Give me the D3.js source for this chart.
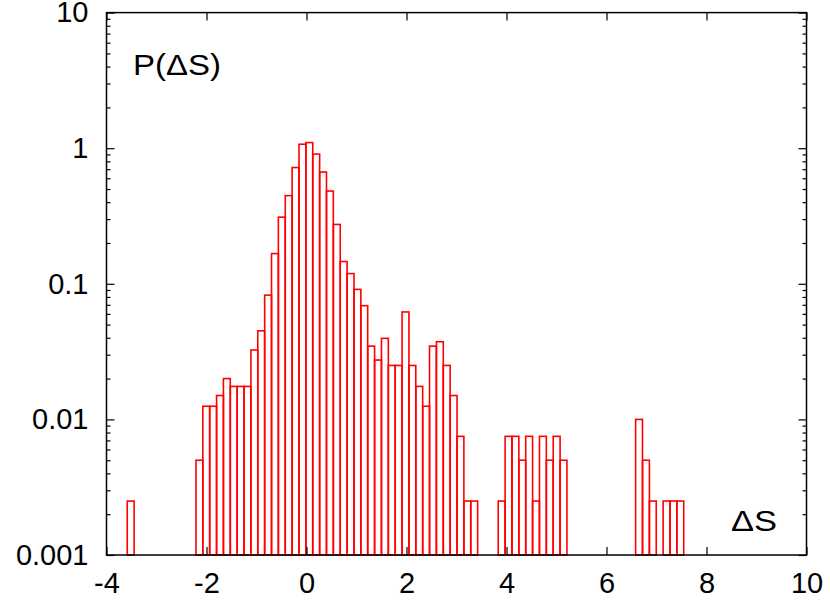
<!DOCTYPE html>
<html>
<head>
<meta charset="utf-8">
<script src="https://cdn.jsdelivr.net/npm/d3@7"></script>
<style>
  body { margin: 0; background: #fff; }
  svg text { font-family: "Liberation Sans", Arial, Helvetica, sans-serif; }
</style>
</head>
<body>
<svg id="chart" width="830" height="610"></svg>
<script>
// histogram bins: centre of each bin and its probability (empty bins left out)
var binWidth = 0.1374;
var binCenters = [
	-3.516,
	-2.142, -2.005, -1.868, -1.730, -1.593, -1.455, -1.318, -1.181, -1.043, -0.906,
	-0.768, -0.631, -0.494, -0.356, -0.219, -0.081, 0.056, 0.194, 0.331, 0.468,
	0.606, 0.743, 0.881, 1.018, 1.155, 1.293, 1.430, 1.568, 1.705, 1.842,
	1.980, 2.117, 2.255, 2.392, 2.529, 2.667, 2.804, 2.942, 3.079, 3.216, 3.354,
	3.903, 4.041, 4.178, 4.316, 4.453, 4.590, 4.728, 4.865, 5.003, 5.140,
	6.651, 6.789, 6.926, 7.201, 7.338, 7.476
];
var probs = [
	0.0025,
	0.005, 0.0125, 0.0125, 0.015, 0.02, 0.0175, 0.0175, 0.0175, 0.0325, 0.045,
	0.0825, 0.167, 0.31, 0.447, 0.72, 1.07, 1.1, 0.905, 0.667, 0.483,
	0.274, 0.146, 0.119, 0.091, 0.069, 0.0347, 0.0274, 0.0396, 0.025, 0.025,
	0.062, 0.025, 0.0175, 0.0125, 0.0347, 0.0374, 0.025, 0.015, 0.0075, 0.0025, 0.0025,
	0.0025, 0.0075, 0.0075, 0.005, 0.0075, 0.0025, 0.0075, 0.005, 0.0075, 0.005,
	0.01, 0.005, 0.0025, 0.0025, 0.0025, 0.0025
];
var xTicks = [-4, -2, 0, 2, 4, 6, 8, 10];
var yTicks = [0.001, 0.01, 0.1, 1, 10];
var yTickLabels = ["0.001", "0.01", "0.1", "1", "10"];

var svg = d3.select("#chart"),
	plotLeft = 106.5, plotRight = 806.5, plotTop = 12.6, plotBottom = 555,
	x = d3.scaleLinear().domain([-4, 10]).range([plotLeft, plotRight]),
	y = d3.scaleLog().domain([0.001, 10]).range([plotBottom, plotTop]);

var minorTicks = [];
yTicks.slice(0, -1).forEach(function(d) {
	for (var m = 2; m <= 9; m++) minorTicks.push(d * m);
});

var bins = binCenters.map(function(c, i) { return {c: c, p: probs[i]}; });

// bars
svg.append("g")
	.selectAll("rect")
	.data(bins)
	.enter().append("rect")
	.attr("x", function(d) { return x(d.c - binWidth/2); })
	.attr("width", function(d) { return x(d.c + binWidth/2) - x(d.c - binWidth/2); })
	.attr("y", function(d) { return y(d.p); })
	.attr("height", function(d) { return plotBottom - y(d.p); })
	.attr("fill", "none")
	.attr("stroke", "#ff0000")
	.attr("stroke-width", 1.6);

// axes, ticks pointing inside
function styleAxis(g) {
	g.select(".domain").remove();
	g.selectAll("line").attr("stroke", "#000").attr("stroke-width", 1.2);
	g.selectAll("text").attr("fill", "#000").style("font-size", "29px")
		.style("font-family", '"Liberation Sans", Arial, Helvetica, sans-serif');
}

svg.append("g")
	.attr("transform", "translate(0," + plotBottom + ")")
	.call(d3.axisBottom(x).tickValues(xTicks).tickSizeInner(-8).tickSizeOuter(0)
		.tickPadding(17).tickFormat(function(d) { return String(d); }))
	.call(styleAxis);

svg.append("g")
	.attr("transform", "translate(0," + plotTop + ")")
	.call(d3.axisTop(x).tickValues(xTicks).tickSizeInner(-8).tickSizeOuter(0)
		.tickFormat(""))
	.call(styleAxis);

svg.append("g")
	.attr("transform", "translate(" + plotLeft + ",0)")
	.call(d3.axisLeft(y).tickValues(yTicks).tickSizeInner(-8).tickSizeOuter(0)
		.tickPadding(18).tickFormat(function(d, i) { return yTickLabels[i]; }))
	.call(styleAxis);

svg.append("g")
	.attr("transform", "translate(" + plotLeft + ",0)")
	.call(d3.axisLeft(y).tickValues(minorTicks).tickSizeInner(-4).tickSizeOuter(0)
		.tickFormat(""))
	.call(styleAxis);

svg.append("g")
	.attr("transform", "translate(" + plotRight + ",0)")
	.call(d3.axisRight(y).tickValues(yTicks).tickSizeInner(-8).tickSizeOuter(0)
		.tickFormat(""))
	.call(styleAxis);

svg.append("g")
	.attr("transform", "translate(" + plotRight + ",0)")
	.call(d3.axisRight(y).tickValues(minorTicks).tickSizeInner(-4).tickSizeOuter(0)
		.tickFormat(""))
	.call(styleAxis);

// frame
svg.append("rect")
	.attr("x", plotLeft).attr("y", plotTop)
	.attr("width", plotRight - plotLeft).attr("height", plotBottom - plotTop)
	.attr("fill", "none").attr("stroke", "#000").attr("stroke-width", 1.5);

// labels inside the plot
svg.append("text")
	.attr("x", 133).attr("y", 75)
	.attr("textLength", 88).attr("lengthAdjust", "spacingAndGlyphs")
	.style("font-size", "29px")
	.text("P(\u0394S)");

svg.append("text")
	.attr("x", 731).attr("y", 531)
	.attr("textLength", 46).attr("lengthAdjust", "spacingAndGlyphs")
	.style("font-size", "29px")
	.text("\u0394S");
</script>
</body>
</html>
